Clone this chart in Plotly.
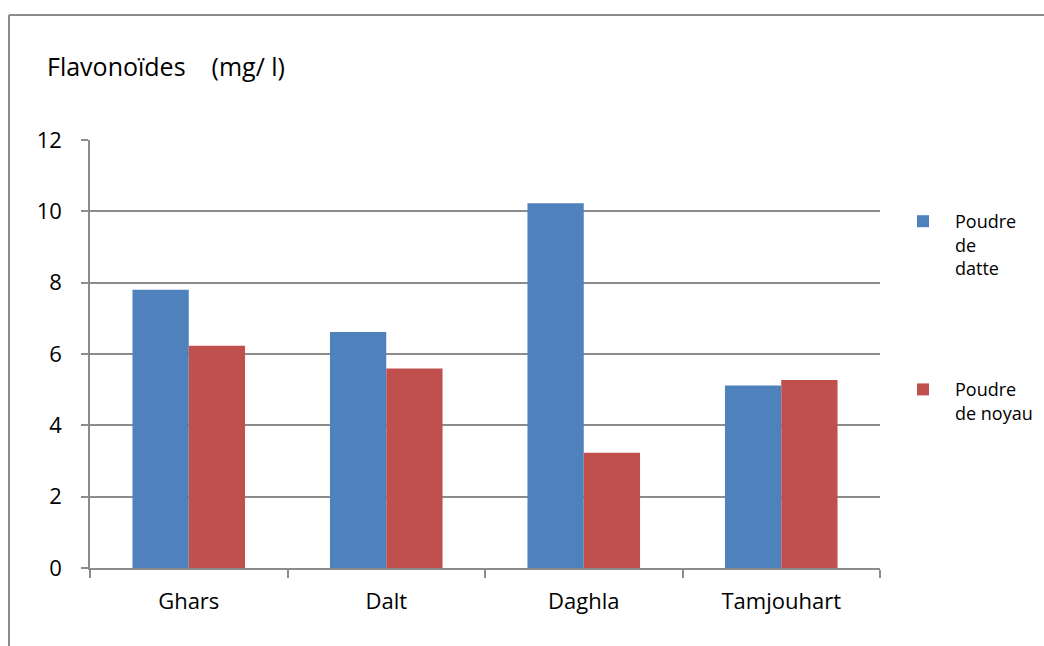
import plotly.graph_objects as go

# Flavonoid content per date variety
categories = ["Ghars", "Dalt", "Daghla", "Tamjouhart"]
poudre_datte = [7.8, 6.62, 10.23, 5.12]
poudre_noyau = [6.23, 5.59, 3.23, 5.27]
series_names = ["Poudre<br>de<br>datte", "Poudre<br>de noyau"]
y_ticks = [0, 2, 4, 6, 8, 10, 12]

FONT = "Open Sans, sans-serif"
GRID = "#8c8c8c"

fig = go.Figure()
fig.add_trace(go.Bar(
    x=categories, y=poudre_datte, name=series_names[0],
    marker=dict(color="#4F81BD", line=dict(width=0)),
    legendgroup="a",
))
fig.add_trace(go.Bar(
    x=categories, y=poudre_noyau, name=series_names[1],
    marker=dict(color="#C0504D", line=dict(width=0)),
    legendgroup="b",
))

W, H = 1044, 646
L, R, T, B = 90, 164, 140, 78
pw, ph = W - L - R, H - T - B


def px_x(v):
    return (v - L) / pw


def px_y(v):
    return (H - B - v) / ph


fig.update_layout(
    width=W, height=H,
    margin=dict(l=L, r=R, t=T, b=B, pad=0, autoexpand=False),
    paper_bgcolor="white", plot_bgcolor="white",
    barmode="group", bargap=0.43, bargroupgap=0,
    font=dict(family=FONT, size=22, color="#000000"),
    xaxis=dict(
        showgrid=False, showline=True, linecolor=GRID, linewidth=1.5,
        ticks="outside", tickson="boundaries", ticklen=8, tickcolor=GRID,
        tickwidth=1.5, tickfont=dict(size=22), ticklabelstandoff=13,
        fixedrange=True,
    ),
    yaxis=dict(
        range=[0, 12], tickvals=y_ticks, showgrid=True, gridcolor=GRID,
        gridwidth=1.5, showline=True, linecolor=GRID, linewidth=1.5,
        ticks="outside", ticklen=7, tickcolor=GRID, tickwidth=1.5,
        tickfont=dict(size=22), ticklabelstandoff=15, zeroline=False,
        fixedrange=True,
    ),
    legend=dict(
        x=px_x(891), y=px_y(203), xanchor="left", yanchor="top",
        font=dict(size=18), traceorder="grouped", tracegroupgap=95,
        valign="top", itemwidth=54, bgcolor="rgba(0,0,0,0)",
    ),
    annotations=[dict(
        text="Flavonoïdes    (mg/ l)", xref="paper", yref="paper",
        x=px_x(45), y=px_y(66), xanchor="left", yanchor="middle",
        showarrow=False, font=dict(size=25),
    )],
    shapes=[
        dict(type="line", xref="paper", yref="paper",
             x0=px_x(9), x1=px_x(1060), y0=px_y(15), y1=px_y(15),
             line=dict(color=GRID, width=2)),
        dict(type="line", xref="paper", yref="paper",
             x0=px_x(9), x1=px_x(9), y0=px_y(15), y1=px_y(660),
             line=dict(color=GRID, width=2)),
    ],
)

fig.write_html("out.html")
